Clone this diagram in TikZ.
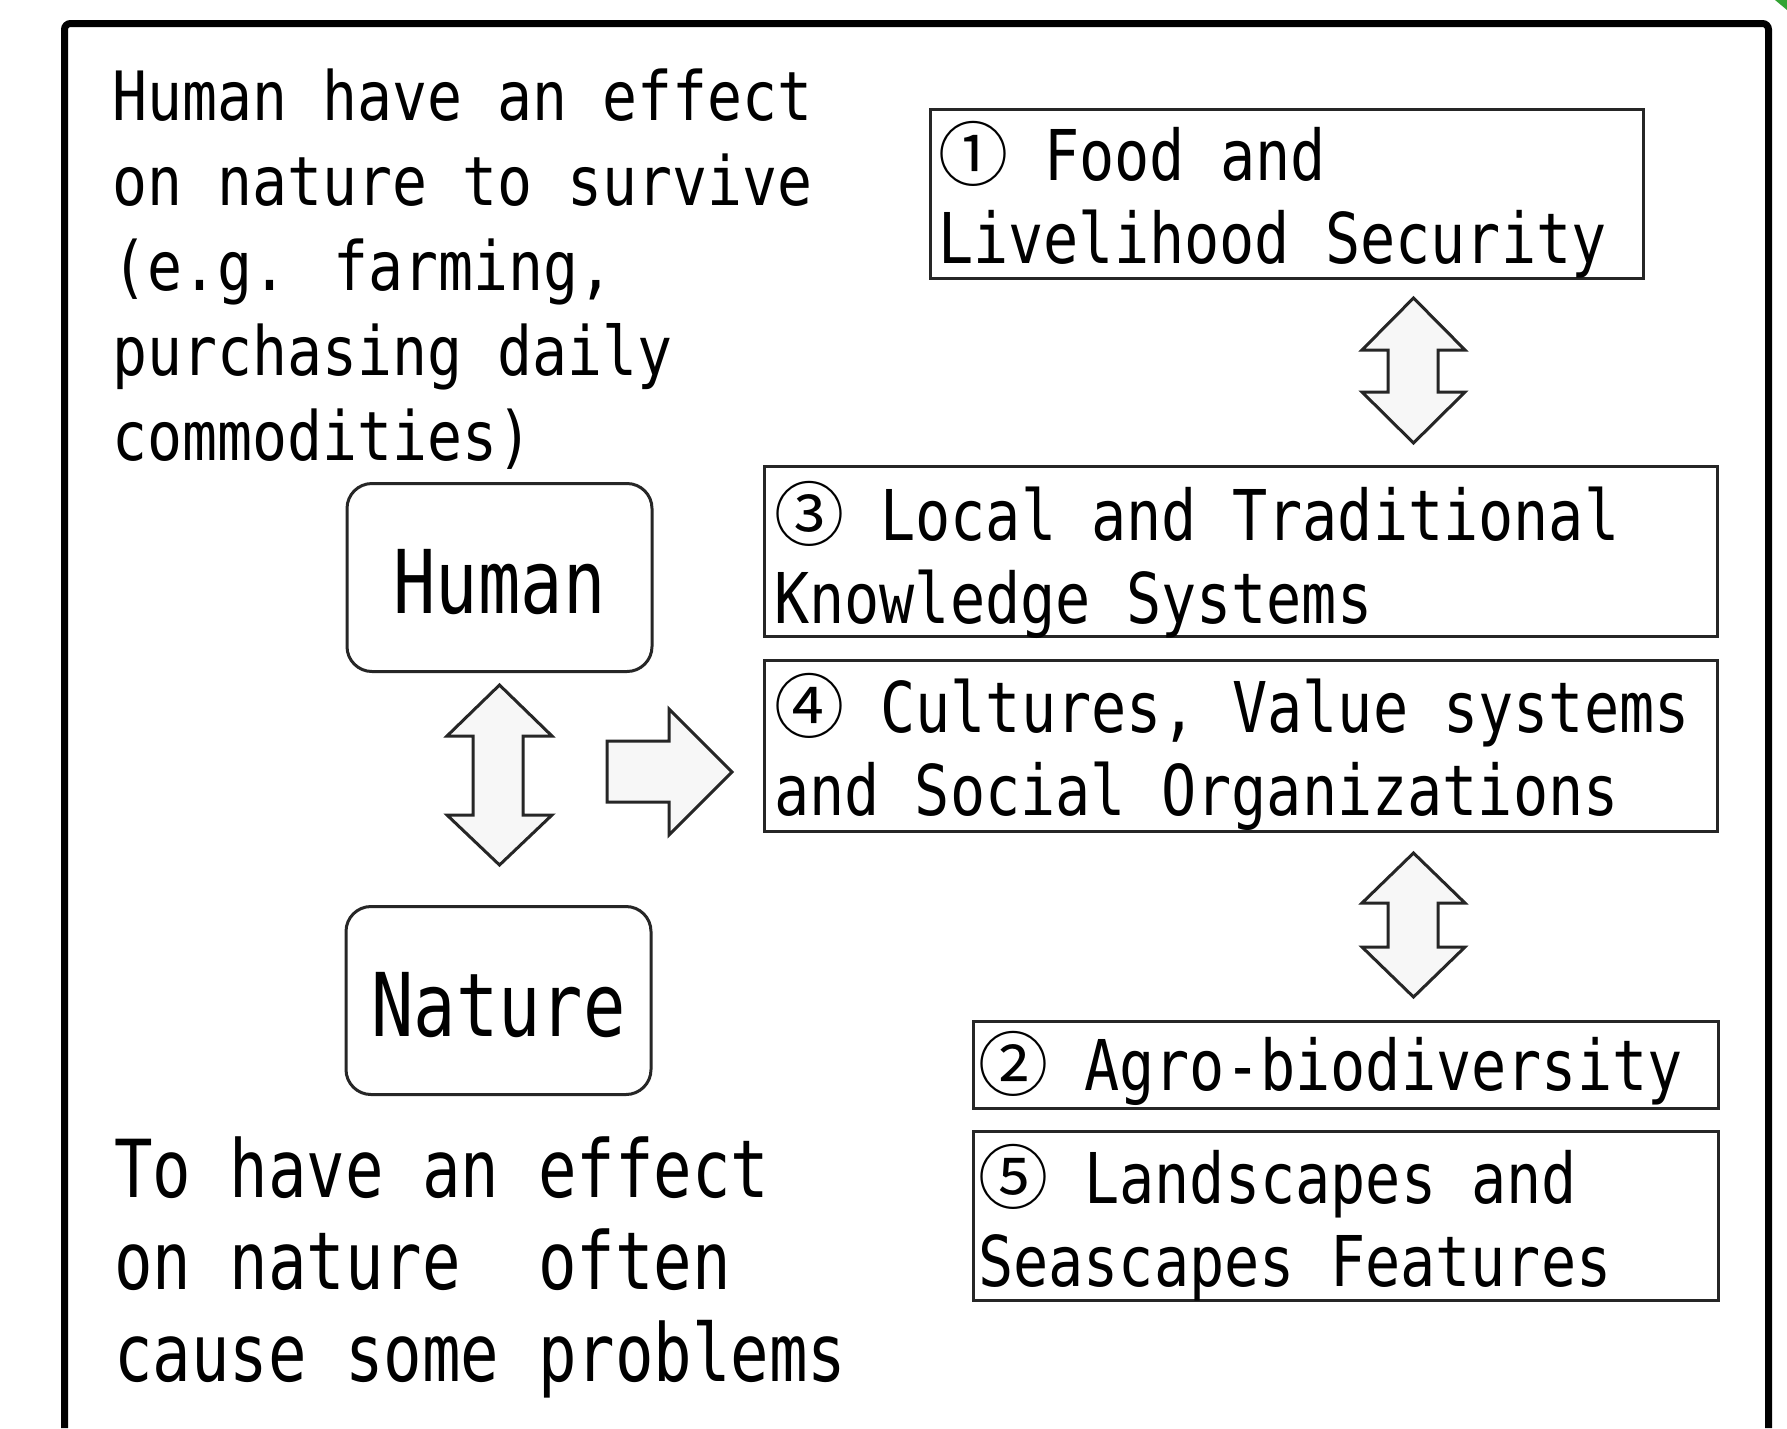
\documentclass[tikz,border=0pt]{standalone}
\usepackage{fontspec}
\newfontfamily\monoA[FakeStretch=0.855]{DejaVu Sans Mono}
\newfontfamily\monoB[FakeStretch=0.80]{DejaVu Sans Mono}
\newfontfamily\monoC[FakeStretch=0.835]{DejaVu Sans Mono}
\newfontfamily\circfont{Noto Sans CJK JP}
\newcommand\cnum[1]{\makebox[71pt][l]{\circfont #1}}
\begin{document}
\begin{tikzpicture}[x=1pt,y=-1pt,
  plaintext/.style={anchor=base west, inner sep=0pt, align=left},
  toptext/.style={plaintext, font=\monoA\fontsize{68}{85}\selectfont},
  boxtext/.style={plaintext, font=\monoC\fontsize{70}{83}\selectfont},
  lowtext/.style={plaintext, font=\monoB\fontsize{80}{92}\selectfont},
  itembox/.style={draw=black!85, line width=3pt, anchor=north west, inner sep=0pt},
  hnbox/.style={draw=black!85, line width=3pt, rounded corners=25pt,
    minimum width=305pt, minimum height=188pt, inner sep=0pt,
    text height=71pt, text depth=0pt,
    font=\monoB\fontsize{88}{100}\selectfont},
  blockarrow/.style={draw=black!85, line width=3pt, fill=black!3, line join=miter},
  frameline/.style={draw=black, line width=7pt, rounded corners=6pt}
]
\useasboundingbox (0,0) rectangle (1787,1428);
\fill[white] (0,0) rectangle (1787,1428);
% outer frame
\draw[frameline] (64.5,1428) -- (64.5,23.5) -- (1768.5,23.5) -- (1768.5,1428);
\fill[green!55!black!80] (1775,0) -- (1787,0) -- (1787,10) -- cycle;

% left texts (anchor = baseline of the last line)
\node[toptext] (topnote) at (112,460) {Human have an effect\\on nature to survive\\(e.g. farming,\\purchasing daily\\commodities)};
\node[lowtext] (lownote) at (114,1381) {To have an effect\\on nature\ \ often\\cause some problems};

% human / nature
\node[hnbox] (human) at (499.5,577.5) {Human};
\node[hnbox] (nature) at (498.5,1000.5) {Nature};

% item boxes
\node[itembox, minimum width=713pt, minimum height=169pt] (box1) at (929,108) {};
\node[itembox, minimum width=953pt, minimum height=170pt] (box3) at (763,465) {};
\node[itembox, minimum width=953pt, minimum height=171pt] (box4) at (763,659) {};
\node[itembox, minimum width=745pt, minimum height=87pt] (box2) at (972,1020) {};
\node[itembox, minimum width=745pt, minimum height=169pt] (box5) at (972,1130) {};

\node[boxtext] (t1) at (938,263) {\cnum{①} Food and\\Livelihood Security};
\node[boxtext] (t3) at (774,623) {\cnum{③} Local and Traditional\\Knowledge Systems};
\node[boxtext] (t4) at (774,815) {\cnum{④} Cultures, Value systems\\and Social Organizations};
\node[boxtext] (t2) at (978,1090) {\cnum{②} Agro-biodiversity};
\node[boxtext] (t5) at (978,1286) {\cnum{⑤} Landscapes and\\Seascapes Features};

% block arrows
\draw[blockarrow] (499.5,685) -- (552,736) -- (523,736) -- (523,815) -- (552,815)
  -- (499.5,865) -- (447,815) -- (473,815) -- (473,736) -- (447,736) -- cycle;
\draw[blockarrow] (607,741) -- (669,741) -- (669,709) -- (732,772) -- (669,835)
  -- (669,802) -- (607,802) -- cycle;
\draw[blockarrow] (1413.5,298) -- (1465,350) -- (1438,350) -- (1438,392) -- (1465,392)
  -- (1413.5,443) -- (1362,392) -- (1388,392) -- (1388,350) -- (1362,350) -- cycle;
\draw[blockarrow] (1413.5,853) -- (1465,903) -- (1438,903) -- (1438,947) -- (1465,947)
  -- (1413.5,997) -- (1362,947) -- (1388,947) -- (1388,903) -- (1362,903) -- cycle;
\end{tikzpicture}
\end{document}
